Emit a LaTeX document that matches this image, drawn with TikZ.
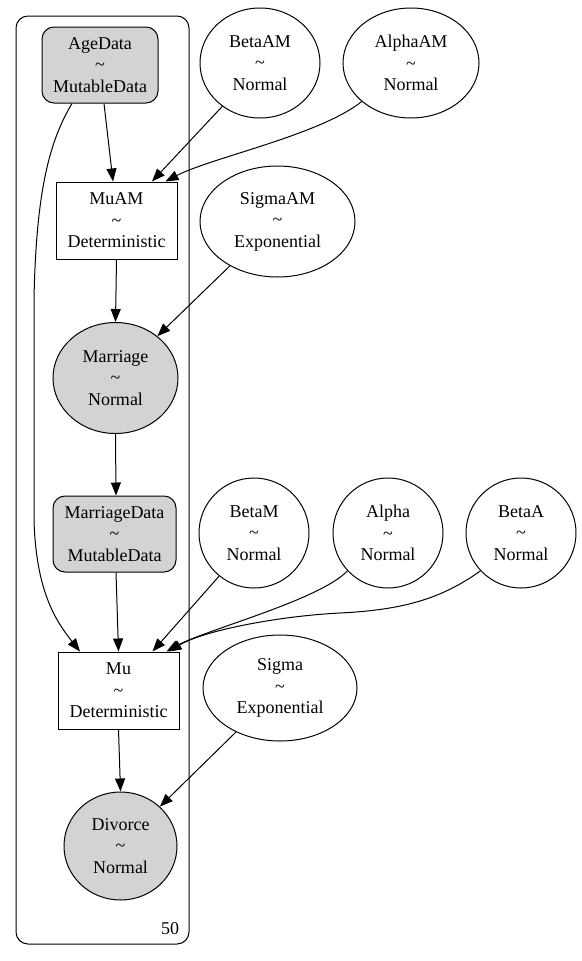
\documentclass[tikz,border=0pt]{standalone}
\usepackage{fontspec}
\setmainfont{Liberation Serif}
\usetikzlibrary{shapes.geometric,arrows.meta}
\definecolor{obsgray}{HTML}{D3D3D3}
\begin{document}
\begin{tikzpicture}[x=1pt,y=-1pt,
  every node/.style={font=\fontsize{18}{21.5}\selectfont, align=center, inner sep=0pt, line width=1pt},
  obsbox/.style={draw, fill=obsgray, rectangle, rounded corners=12pt},
  detbox/.style={draw, rectangle, minimum width=121pt, minimum height=77pt},
  rv/.style={draw, ellipse},
  edge/.style={line width=1pt, -{Triangle[length=13pt,width=10pt]}},
  plate/.style={draw, line width=1pt, rounded corners=12pt}]
\useasboundingbox (0,0) rectangle (581,961);
% plate
\draw[plate] (16,16) rectangle (189,944);
\node (n50) at (170,929) {50};
% nodes
\node[obsbox, minimum width=116pt, minimum height=76pt] (AgeData) at (100,65) {AgeData\\\textasciitilde\\MutableData};
\node[detbox] (MuAM) at (116.5,220.5) {MuAM\\\textasciitilde\\Deterministic};
\node[rv, fill=obsgray, minimum width=125pt, minimum height=111pt] (Marriage) at (115.5,378) {Marriage\\\textasciitilde\\Normal};
\node[obsbox, minimum width=123pt, minimum height=76pt] (MarriageData) at (114.5,534) {MarriageData\\\textasciitilde\\MutableData};
\node[detbox] (Mu) at (118.5,690.5) {Mu\\\textasciitilde\\Deterministic};
\node[rv, fill=obsgray, minimum width=113pt, minimum height=108pt] (Divorce) at (120.5,846) {Divorce\\\textasciitilde\\Normal};
\node[rv, minimum width=120pt, minimum height=110pt] (BetaAM) at (260,63) {BetaAM\\\textasciitilde\\Normal};
\node[rv, minimum width=136pt, minimum height=110pt] (AlphaAM) at (411,63) {AlphaAM\\\textasciitilde\\Normal};
\node[rv, minimum width=155pt, minimum height=111pt] (SigmaAM) at (277.5,221.5) {SigmaAM\\\textasciitilde\\Exponential};
\node[rv, minimum width=110pt, minimum height=110pt] (BetaM) at (254,533) {BetaM\\\textasciitilde\\Normal};
\node[rv, minimum width=110pt, minimum height=110pt] (Alpha) at (388,533) {Alpha\\\textasciitilde\\Normal};
\node[rv, minimum width=110pt, minimum height=110pt] (BetaA) at (521,533) {BetaA\\\textasciitilde\\Normal};
\node[rv, minimum width=154pt, minimum height=106pt] (Sigma) at (280,688) {Sigma\\\textasciitilde\\Exponential};
% edges
\draw[edge] ([xshift=4pt]AgeData.south) -- ([xshift=-3.5pt]MuAM.north);
\draw[edge] ([xshift=-28pt]AgeData.south) .. controls (50,140) and (36,190) .. (34,300) -- (34,520) .. controls (36,590) and (55,620) .. ([xshift=-38.5pt]Mu.north);
\draw[edge] (BetaAM.229) -- ([xshift=35.5pt]MuAM.north);
\draw[edge] (AlphaAM.218) .. controls (320,135) and (210,158) .. ([xshift=49pt]MuAM.north);
\draw[edge] (MuAM.south) -- (Marriage.north);
\draw[edge] (SigmaAM.223) -- (Marriage.45);
\draw[edge] (Marriage.south) -- ([xshift=1.5pt]MarriageData.north);
\draw[edge] ([xshift=1.5pt]MarriageData.south) -- (Mu.north);
\draw[edge] (BetaM.231) -- ([xshift=34pt]Mu.north);
\draw[edge] (Alpha.223) .. controls (320,600) and (205,630) .. ([xshift=48pt]Mu.north);
\draw[edge] (BetaA.223) .. controls (440,600) and (400,610) .. (340,613) .. controls (280,616) and (205,630) .. ([xshift=50pt]Mu.north);
\draw[edge] (Mu.south) -- (Divorce.north);
\draw[edge] (Sigma.225) -- (Divorce.45);
\end{tikzpicture}
\end{document}
